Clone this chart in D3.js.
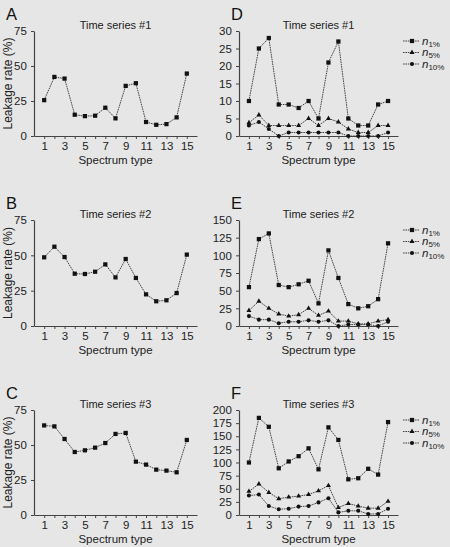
<!DOCTYPE html>
<html>
<head>
<meta charset="utf-8">
<script src="https://cdn.jsdelivr.net/npm/d3@7"></script>
<style>
  body { margin: 0; background: #e6e6e6; }
  svg { display: block; font-family: "Liberation Sans", Arial, sans-serif; }
</style>
</head>
<body>
<svg></svg>
<script>
var width = 450;
var height = 547;

// spectrum types 1..15
var spectrum = d3.range(1, 16);
var xTickLabels = [1, 3, 5, 7, 9, 11, 13, 15];

// left column: leakage rate (%)
var leak1 = [25.6, 42.2, 41, 15.2, 14.2, 14.5, 20.2, 12.6, 35.8, 37.7, 10, 8, 8.5, 13.3, 44.6];
var leak2 = [48.6, 56.1, 48.8, 37, 36.8, 38.4, 43.6, 34.4, 47.4, 34, 22.4, 17.5, 18.2, 23.3, 50.5];
var leak3 = [64, 63.3, 54.3, 45, 46.2, 48.1, 51.4, 57.9, 58.6, 38.1, 36, 32.4, 31.7, 30.5, 53.6];

// right column: n1%, n5%, n10%
var ts1n1 = [10, 25, 28, 9, 9, 8, 10, 5, 21, 27, 5, 3, 3, 9, 10];
var ts1n5 = [3.8, 6, 3, 3, 3, 3, 5, 3, 5, 4, 2, 1, 1, 3, 3];
var ts1n10 = [3, 4, 2, 0, 1, 1, 1, 1, 1, 1, 0, 0, 0, 0, 1];

var ts2n1 = [55, 123, 131, 58, 55, 59, 64, 32, 107, 68, 31, 25, 28, 38, 117];
var ts2n5 = [22, 35, 25, 17, 14, 16, 25, 15, 21, 7, 7, 3, 3, 7, 9];
var ts2n10 = [14, 9, 9, 4, 6, 6, 8, 6, 8, 0, 2, 2, 2, 0, 6];

var ts3n1 = [100, 185, 168, 89, 102, 112, 127, 87, 167, 143, 68, 70, 88, 77, 177];
var ts3n5 = [45, 59, 43, 31, 34, 36, 39, 46, 56, 14, 22, 17, 13, 13, 26];
var ts3n10 = [37, 39, 17, 11, 12, 16, 17, 24, 32, 5, 8, 8, 2, 2, 12];

var leftTicks = [0, 25, 50, 75];
var dTicks = [0, 5, 10, 15, 20, 25, 30];
var eTicks = [0, 25, 50, 75, 100, 125, 150];
var fTicks = [0, 25, 50, 75, 100, 125, 150, 175, 200];

var legendNames = ["1%", "5%", "10%"];
var symbols = [d3.symbolSquare, d3.symbolTriangle, d3.symbolCircle];
var symbolSizes = [18, 11, 13];

var svg = d3.select("svg")
    .attr("width", width)
    .attr("height", height);

var rows = [
  { top: 31, bottom: 136 },
  { top: 220, bottom: 326 },
  { top: 410, bottom: 515 }
];

function drawPanel(opt) {
  var x = d3.scaleLinear().domain([0, 16]).range([opt.x0, opt.x1]);
  var y = d3.scaleLinear().domain([0, opt.ymax]).range([opt.bottom, opt.top]);
  var g = svg.append("g");

  // panel letter
  g.append("text")
      .attr("x", opt.letterX)
      .attr("y", opt.top - 11)
      .attr("font-size", 16.5)
      .attr("fill", "#111")
      .text(opt.letter);

  // title
  g.append("text")
      .attr("x", (opt.x0 + opt.x1) / 2)
      .attr("y", opt.top - 2)
      .attr("text-anchor", "middle")
      .attr("font-size", 11)
      .attr("fill", "#222")
      .text(opt.title);

  var xAxis = g.append("g")
      .attr("transform", "translate(0," + opt.bottom + ")")
      .call(d3.axisBottom(x).tickValues(spectrum).tickSize(3).tickSizeOuter(0)
        .tickFormat(d => xTickLabels.indexOf(d) >= 0 ? d : ""));
  var yAxis = g.append("g")
      .attr("transform", "translate(" + opt.x0 + ",0)")
      .call(d3.axisLeft(y).tickValues(opt.ticks).tickSize(3).tickSizeOuter(0));

  [xAxis, yAxis].forEach(function(a) {
    a.select(".domain").attr("stroke", "#444").attr("stroke-width", 1.2);
    a.selectAll(".tick line").attr("stroke", "#444").attr("stroke-width", 1);
    a.selectAll(".tick text").attr("fill", "#222").attr("font-size", 11.5)
      .attr("font-family", "Liberation Sans, Arial, sans-serif");
  });
  yAxis.selectAll(".tick text").attr("dx", "-0.1em");

  // x axis title, kept inside the page for the bottom row
  g.append("text")
      .attr("x", (opt.x0 + opt.x1) / 2)
      .attr("y", Math.min(opt.bottom + 28, height - 3.5))
      .attr("text-anchor", "middle")
      .attr("font-size", 11.5)
      .attr("fill", "#222")
      .text("Spectrum type");

  if (opt.ylabel) {
    g.append("text")
        .attr("transform", "translate(" + (opt.x0 - 22) + "," + ((opt.top + opt.bottom) / 2) + ") rotate(-90)")
        .attr("text-anchor", "middle")
        .attr("font-size", 12)
        .attr("fill", "#222")
        .text(opt.ylabel);
  }

  var line = d3.line()
      .x((d, i) => x(spectrum[i]))
      .y(d => y(d));

  opt.series.forEach(function(s, k) {
    g.append("path")
        .datum(s)
        .attr("d", line)
        .attr("fill", "none")
        .attr("stroke", "#333")
        .attr("stroke-width", 0.9)
        .attr("stroke-dasharray", "1.6,0.8");
    g.selectAll(".pt" + k)
        .data(s)
        .enter()
        .append("path")
        .attr("transform", (d, i) => "translate(" + x(spectrum[i]) + "," + y(d) + ")")
        .attr("d", d3.symbol().type(symbols[opt.sym ? k : 0]).size(symbolSizes[opt.sym ? k : 0]))
        .attr("fill", "#111");
  });

  if (opt.legend) {
    legendNames.forEach(function(name, k) {
      var ly = opt.top + 10 + k * 11.5;
      var lg = g.append("g").attr("transform", "translate(403," + ly + ")");
      lg.append("line")
          .attr("x1", 0).attr("x2", 16)
          .attr("stroke", "#333")
          .attr("stroke-width", 0.9)
          .attr("stroke-dasharray", "1.6,0.8");
      lg.append("path")
          .attr("transform", "translate(9,0)")
          .attr("d", d3.symbol().type(symbols[k]).size(symbolSizes[k]))
          .attr("fill", "#111");
      var t = lg.append("text")
          .attr("x", 19)
          .attr("y", 3.5)
          .attr("fill", "#222")
          .attr("font-size", 11.5);
      t.append("tspan").attr("font-style", "italic").text("n");
      t.append("tspan").attr("font-size", 8).attr("dy", 2).text(name);
    });
  }
}

var leftSeries = [leak1, leak2, leak3];
var rightSeries = [[ts1n1, ts1n5, ts1n10], [ts2n1, ts2n5, ts2n10], [ts3n1, ts3n5, ts3n10]];
var rightTicks = [dTicks, eTicks, fTicks];
var rightMax = [30, 150, 200];

rows.forEach(function(r, i) {
  drawPanel({
    letter: "ABC"[i], letterX: 6, title: "Time series #" + (i + 1),
    x0: 34, x1: 197, top: r.top, bottom: r.bottom,
    ymax: 75, ticks: leftTicks, ylabel: "Leakage rate (%)",
    series: [leftSeries[i]], sym: false, legend: false
  });
  drawPanel({
    letter: "DEF"[i], letterX: 231, title: "Time series #" + (i + 1),
    x0: 239, x1: 398, top: r.top, bottom: r.bottom,
    ymax: rightMax[i], ticks: rightTicks[i], ylabel: null,
    series: rightSeries[i], sym: true, legend: true
  });
});
</script>
</body>
</html>
